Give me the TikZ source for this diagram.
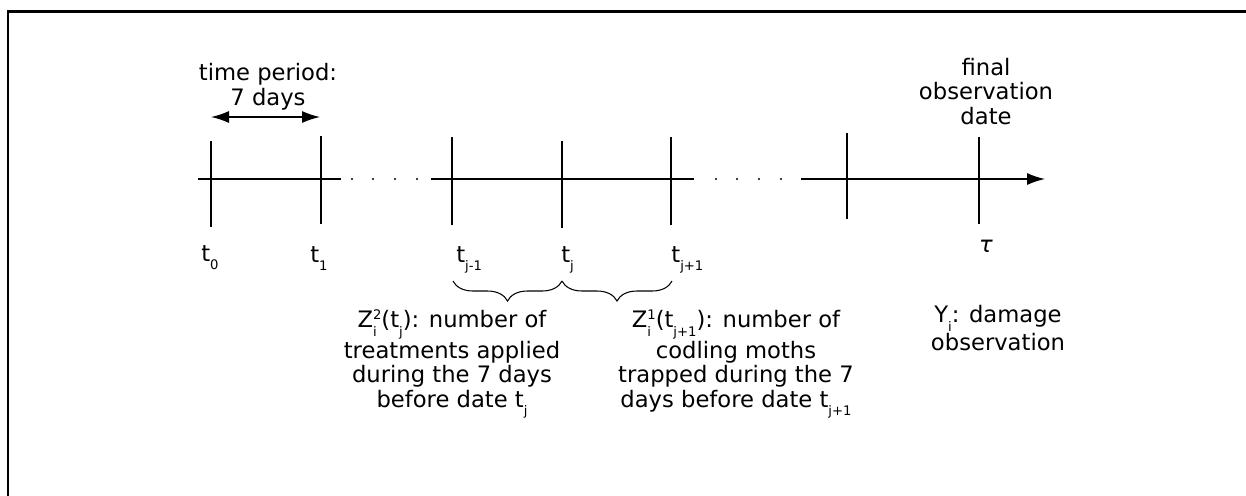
\documentclass[tikz,border=0pt]{standalone}
\usepackage{fontspec}
\setmainfont{DejaVu Sans}
\usetikzlibrary{arrows.meta, positioning, decorations.pathreplacing}

\newcommand{\lowidx}[1]{\raisebox{-5pt}{\fontsize{7.5}{8}\selectfont #1}}
\newcommand{\highidx}[1]{\raisebox{4.5pt}{\fontsize{7.5}{8}\selectfont #1}}
\newcommand{\bothidx}[2]{\makebox[0pt][l]{\lowidx{#2}}\highidx{#1}}

\tikzset{
  lbl/.style={font=\fontsize{12.9}{13.9}\selectfont, inner sep=0pt},
  axis/.style={line width=0.8pt},
  tick/.style={line width=0.8pt},
  period/.style={line width=0.8pt,
    {Latex[length=0.36cm,width=0.24cm]}-{Latex[length=0.36cm,width=0.24cm]}},
  span/.style={line width=0.6pt, decorate,
    decoration={brace, mirror, amplitude=0.4cm}},
}

\begin{document}
\begin{tikzpicture}[x=0.02cm, y=-0.02cm]
  \useasboundingbox (0,0) rectangle (1246,495);
  % frame (top and left edges only)
  \coordinate (fbl) at (8,497);
  \coordinate (ftl) at (8,11);
  \coordinate (ftr) at (1248,11);
  \draw[line width=1.7pt] (fbl) -- (ftl) -- (ftr);

  % time axis, in three pieces
  \coordinate (s1) at (198,179);
  \coordinate (e1) at (341,179);
  \coordinate (s2) at (431,179);
  \coordinate (e2) at (694,179);
  \coordinate (s3) at (801,179);
  \coordinate (tip) at (1045,179);
  \draw[axis] (s1) -- (e1);
  \draw[axis] (s2) -- (e2);
  \draw[axis, -{Latex[length=0.36cm,width=0.24cm]}] (s3) -- (tip);
  \foreach \x in {352,373,395,417,716,737,759,781}
    \fill (\x,179) circle (0.6pt);

  % ticks
  \foreach \name/\x/\top/\bot in {t0/211/141/227, t1/321/136/224,
      tjm/452/137/225, tj/562/141/228, tjp/671/137/225,
      tk/847/133/219, tau/979/137/224} {
    \coordinate (\name top) at (\x,\top);
    \coordinate (\name bot) at (\x,\bot);
    \draw[tick] (\name top) -- (\name bot);
  }

  % tick labels
  \node[lbl, anchor=base west] (lt0) at (201,261) {t\lowidx{0}};
  \node[lbl, anchor=base west] (lt1) at (310,262) {t\lowidx{1}};
  \node[lbl, anchor=base west] (ltjm) at (456,262) {t\lowidx{j-1}};
  \node[lbl, anchor=base west] (ltj) at (561,262) {t\lowidx{j}};
  \node[lbl, anchor=base west] (ltjp) at (671,262) {t\lowidx{j+1}};
  \node[lbl, anchor=base] (ltau) at (986,252) {\textit{τ}};

  % period of 7 days
  \node[lbl, anchor=base, align=center] (period) at (268,105) {time period:\\7 days};
  \coordinate (pl) at (211,117);
  \coordinate (pr) at (320,117);
  \draw[period] (pl) -- (pr);

  \node[lbl, anchor=base, align=center] (final) at (986,124) {final\\observation\\date};

  % braces and their texts
  \coordinate (b0) at (453,281);
  \coordinate (b1) at (562,281);
  \coordinate (b2) at (672,281);
  \draw[span] (b0) -- (b1);
  \draw[span] (b1) -- (b2);

  \node[lbl, anchor=base, align=center] (treat) at (452,407)
    {Z\bothidx{2}{i}(t\lowidx{j}): number of\\treatments applied\\during the 7 days\\before date t\lowidx{j}};
  \node[lbl, anchor=base, align=center] (moths) at (736,407)
    {Z\bothidx{1}{i}(t\lowidx{j+1}): number of\\codling moths\\trapped during the 7\\days before date t\lowidx{j+1}};
  \node[lbl, anchor=base, align=center] (damage) at (998,350)
    {Y\lowidx{i}: damage\\observation};
\end{tikzpicture}
\end{document}
